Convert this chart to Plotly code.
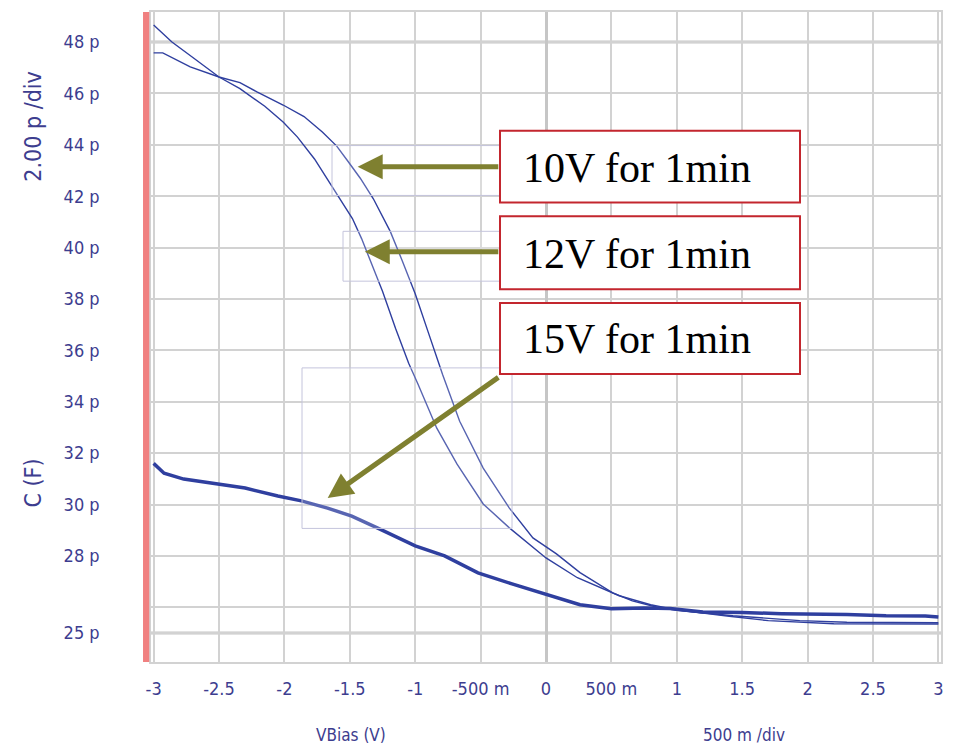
import plotly.graph_objects as go

# ---- data ----
v_10 = [-3.0, -2.93, -2.72, -2.5, -2.34, -2.21, -2.01, -1.85, -1.71, -1.6, -1.52, -1.42, -1.32,
        -1.19, -1.10, -1.0, -0.9, -0.79, -0.66, -0.48, -0.28, -0.10, 0.08, 0.26, 0.51, 0.66,
        0.85, 1.0, 1.43, 1.7, 1.94, 2.3, 2.7, 3.0]
c_10 = [47.58, 47.58, 47.03, 46.64, 46.42, 46.06, 45.55, 45.1, 44.5, 43.95, 43.4, 42.7, 41.9,
        40.62, 39.5, 38.2, 36.7, 35.05, 33.24, 31.42, 29.86, 28.7, 28.08, 27.35, 26.56, 26.25,
        26.0, 25.88, 25.67, 25.58, 25.48, 25.42, 25.42, 25.4]

v_12 = [-3.0, -2.86, -2.7, -2.5, -2.34, -2.15, -2.01, -1.9, -1.77, -1.65, -1.56, -1.48, -1.41,
        -1.35, -1.25, -1.15, -1.05, -0.98, -0.9, -0.835, -0.68, -0.48, -0.28, 0.0, 0.24, 0.56,
        0.8, 1.0, 1.4, 1.7, 2.2, 2.6, 3.0]
c_12 = [48.66, 48.0, 47.4, 46.64, 46.19, 45.5, 44.89, 44.3, 43.45, 42.5, 41.8, 41.13, 40.35,
        39.6, 38.3, 36.85, 35.5, 34.7, 33.75, 32.97, 31.57, 30.02, 29.09, 27.92, 27.15, 26.45,
        26.1, 25.9, 25.65, 25.48, 25.36, 25.36, 25.35]

v_15 = [-3.0, -2.98, -2.92, -2.77, -2.51, -2.3, -2.05, -1.87, -1.67, -1.485, -1.29, -1.0, -0.775,
        -0.52, -0.26, 0.0, 0.12, 0.26, 0.5, 0.75, 0.95, 1.2, 1.5, 1.8, 2.3, 2.6, 2.9, 3.0]
c_15 = [31.6, 31.5, 31.22, 30.99, 30.8, 30.64, 30.33, 30.14, 29.86, 29.55, 29.09, 28.39, 28.0,
        27.34, 26.91, 26.52, 26.33, 26.1, 25.94, 25.97, 25.95, 25.82, 25.8, 25.75, 25.72, 25.67,
        25.66, 25.62]

x_tickvals = [-3, -2.5, -2, -1.5, -1, -0.5, 0, 0.5, 1, 1.5, 2, 2.5, 3]
x_ticktext = ["-3", "-2.5", "-2", "-1.5", "-1", "-500 m", "0", "500 m", "1", "1.5", "2", "2.5", "3"]
y_tickvals = [25, 26, 28, 30, 32, 34, 36, 38, 40, 42, 44, 46, 48]
y_ticktext = ["25 p", "", "28 p", "30 p", "32 p", "34 p", "36 p", "38 p", "40 p", "42 p",
              "44 p", "46 p", "48 p"]
major_y = [25, 48]

labels = ["10V for 1min", "12V for 1min", "15V for 1min"]

# ---- styling ----
NAVY = "#3d3d8f"
LINE = "#2f3f9f"
GRID = "#d2d2d2"
OLIVE = "#7f8030"
SANS = "DejaVu Sans Condensed, Liberation Sans Narrow, Arial Narrow, sans-serif"
TICKFONT = dict(family=SANS, size=18, color=NAVY)

fig = go.Figure()
fig.add_trace(go.Scatter(x=v_10, y=c_10, mode="lines", line=dict(color=LINE, width=1.4),
                         name=labels[0]))
fig.add_trace(go.Scatter(x=v_12, y=c_12, mode="lines", line=dict(color=LINE, width=1.4),
                         name=labels[1]))
fig.add_trace(go.Scatter(x=v_15, y=c_15, mode="lines", line=dict(color=LINE, width=3.5),
                         name=labels[2]))

fig.update_layout(
    width=957, height=750,
    margin=dict(l=151, r=16, t=10, b=88),
    paper_bgcolor="white", plot_bgcolor="white",
    showlegend=False,
    xaxis=dict(range=[-3.02, 3.02], tickvals=x_tickvals, ticktext=x_ticktext,
               showgrid=True, gridcolor=GRID, gridwidth=1.5,
               zeroline=True, zerolinecolor="#c6c6c6", zerolinewidth=3,
               showline=True, mirror=True, linecolor=GRID, linewidth=1.5,
               ticks="", tickfont=TICKFONT, ticklabelstandoff=10),
    yaxis=dict(range=[23.87, 49.17], tickvals=y_tickvals, ticktext=y_ticktext,
               showgrid=True, gridcolor=GRID, gridwidth=1.5, zeroline=False,
               showline=True, mirror=True, linecolor=GRID, linewidth=1.5,
               ticks="", tickfont=TICKFONT, ticklabelstandoff=46),
)

shapes = []
for yv in major_y:
    shapes.append(dict(type="line", xref="paper", yref="y", x0=0, x1=1, y0=yv, y1=yv,
                       line=dict(color="#c6c6c6", width=3), layer="below"))
# red bar at left of plot
shapes.append(dict(type="rect", xref="paper", yref="paper", x0=-0.0101, x1=-0.0022, y0=0, y1=1,
                   fillcolor="#f08080", line=dict(width=0)))


def px_x(p):
    return (p - 151) / 790.0


def px_y(p):
    return 1 - (p - 10) / 652.0


# faint selection rectangles around arrows
for (x0, y0, x1, y1) in [(332, 144, 509, 194), (343, 230, 509, 280), (302, 367, 512, 528)]:
    shapes.append(dict(type="rect", xref="paper", yref="paper",
                       x0=px_x(x0), x1=px_x(x1), y0=px_y(y1), y1=px_y(y0),
                       fillcolor="rgba(255,255,255,0.2)",
                       line=dict(color="#c4c4dc", width=1), layer="above"))
# label boxes
box_px = [(500, 129, 800, 201), (500, 215, 800, 288), (500, 302, 800, 373)]
for (x0, y0, x1, y1) in box_px:
    shapes.append(dict(type="rect", xref="paper", yref="paper",
                       x0=px_x(x0), x1=px_x(x1), y0=px_y(y1), y1=px_y(y0),
                       fillcolor="white", line=dict(color="#c3262e", width=2), layer="above"))
fig.update_layout(shapes=shapes)

annotations = []
for lab, (x0, y0, x1, y1) in zip(labels, box_px):
    annotations.append(dict(text=lab, xref="paper", yref="paper", x=px_x(521),
                            y=px_y((y0 + y1) / 2 + 1), xanchor="left", yanchor="middle",
                            showarrow=False,
                            font=dict(family="Liberation Serif, Times New Roman, serif",
                                      size=42, color="black")))
# arrows (tail -> tip, in data units)
arrows = [((-0.353, 43.15), (-1.44, 43.15)),
          ((-0.353, 39.84), (-1.386, 39.84)),
          ((-0.353, 34.99), (-1.669, 30.25))]
for (tx, ty), (hx, hy) in arrows:
    annotations.append(dict(text="", x=hx, y=hy, ax=tx, ay=ty, xref="x", yref="y",
                            axref="x", ayref="y", showarrow=True, arrowhead=2,
                            arrowsize=1.0, arrowwidth=5, arrowcolor=OLIVE, standoff=0))
# axis titles
VFONT = dict(family=SANS, size=23, color=NAVY)
HFONT = dict(family=SANS, size=17, color=NAVY)
annotations.append(dict(text="2.00 p /div", xref="paper", yref="paper", x=px_x(33), y=px_y(125),
                        textangle=-90, showarrow=False, font=VFONT,
                        xanchor="center", yanchor="middle"))
annotations.append(dict(text="C (F)", xref="paper", yref="paper", x=px_x(33), y=px_y(483),
                        textangle=-90, showarrow=False, font=VFONT,
                        xanchor="center", yanchor="middle"))
annotations.append(dict(text="VBias (V)", xref="paper", yref="paper", x=px_x(351), y=px_y(735),
                        showarrow=False, font=HFONT, xanchor="center", yanchor="middle"))
annotations.append(dict(text="500 m /div", xref="paper", yref="paper", x=px_x(744), y=px_y(735),
                        showarrow=False, font=HFONT, xanchor="center", yanchor="middle"))
fig.update_layout(annotations=annotations)

fig.write_html("out.html", config={"displayModeBar": False},
               post_script="document.body.style.margin='0';")
